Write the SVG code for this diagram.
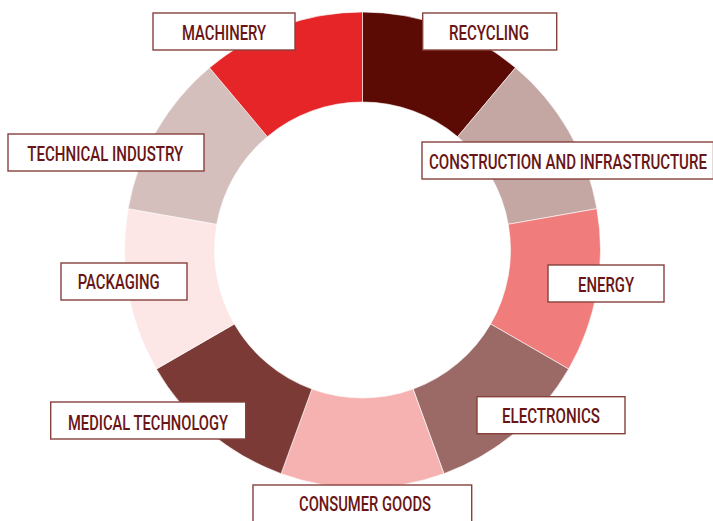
<svg xmlns="http://www.w3.org/2000/svg" width="713" height="521" viewBox="0 0 713 521">
<style>
.seg{stroke:#ffffff;stroke-width:0.6}
.box{fill:#ffffff;stroke:#87413d;stroke-width:1.4}
.lbl{font-family:"Roboto","Liberation Sans",sans-serif;font-size:21px;font-weight:500;fill:#6a1515}
</style>
<rect width="713" height="521" fill="#ffffff"/>
<g id="donut">
<path id="seg-recycling" class="seg" fill="#5c0a04" d="M362.5,12 A238,238 0 0 1 515.49,67.69 L457.63,136.63 A148,148 0 0 0 362.5,102 Z"/>
<path id="seg-construction" class="seg" fill="#c4a6a3" d="M515.49,67.69 A238,238 0 0 1 596.88,208.68 L508.25,224.31 A148,148 0 0 0 457.63,136.63 Z"/>
<path id="seg-energy" class="seg" fill="#f07c7c" d="M596.88,208.68 A238,238 0 0 1 568.61,369 L490.67,324 A148,148 0 0 0 508.25,224.31 Z"/>
<path id="seg-electronics" class="seg" fill="#9c6a66" d="M568.61,369 A238,238 0 0 1 443.9,473.64 L413.12,389.07 A148,148 0 0 0 490.67,324 Z"/>
<path id="seg-consumer" class="seg" fill="#f6b2b1" d="M443.9,473.64 A238,238 0 0 1 281.1,473.64 L311.88,389.07 A148,148 0 0 0 413.12,389.07 Z"/>
<path id="seg-medical" class="seg" fill="#7b3a35" d="M281.1,473.64 A238,238 0 0 1 156.39,369 L234.33,324 A148,148 0 0 0 311.88,389.07 Z"/>
<path id="seg-packaging" class="seg" fill="#fce6e6" d="M156.39,369 A238,238 0 0 1 128.12,208.68 L216.75,224.31 A148,148 0 0 0 234.33,324 Z"/>
<path id="seg-technical" class="seg" fill="#d4bfbd" d="M128.12,208.68 A238,238 0 0 1 209.51,67.69 L267.37,136.63 A148,148 0 0 0 216.75,224.31 Z"/>
<path id="seg-machinery" class="seg" fill="#e52528" d="M209.51,67.69 A238,238 0 0 1 362.5,12 L362.5,102 A148,148 0 0 0 267.37,136.63 Z"/>
</g>
<g id="connectors"></g>
<g id="node-machinery">
<rect class="box" x="153" y="13" width="142" height="37"/>
<text class="lbl" x="182" y="40" textLength="84" lengthAdjust="spacingAndGlyphs">MACHINERY</text>
</g>
<g id="node-recycling">
<rect class="box" x="422.7" y="13" width="134" height="37"/>
<text class="lbl" x="449" y="40" textLength="80" lengthAdjust="spacingAndGlyphs">RECYCLING</text>
</g>
<g id="node-construction">
<rect class="box" x="422" y="142" width="291.5" height="37"/>
<text class="lbl" x="429" y="169" textLength="278" lengthAdjust="spacingAndGlyphs">CONSTRUCTION AND INFRASTRUCTURE</text>
</g>
<g id="node-energy">
<rect class="box" x="548" y="265" width="116" height="37"/>
<text class="lbl" x="578" y="292" textLength="56" lengthAdjust="spacingAndGlyphs">ENERGY</text>
</g>
<g id="node-technical">
<rect class="box" x="8" y="134" width="196" height="37"/>
<text class="lbl" x="27.3" y="161" textLength="156" lengthAdjust="spacingAndGlyphs">TECHNICAL INDUSTRY</text>
</g>
<g id="node-packaging">
<rect class="box" x="61" y="263" width="126" height="37"/>
<text class="lbl" x="77.7" y="289" textLength="82" lengthAdjust="spacingAndGlyphs">PACKAGING</text>
</g>
<g id="node-medical">
<rect class="box" x="50.7" y="402" width="195" height="37"/>
<text class="lbl" x="68" y="430" textLength="160" lengthAdjust="spacingAndGlyphs">MEDICAL TECHNOLOGY</text>
</g>
<g id="node-electronics">
<rect class="box" x="477" y="396.7" width="148" height="37"/>
<text class="lbl" x="502" y="423" textLength="98" lengthAdjust="spacingAndGlyphs">ELECTRONICS</text>
</g>
<g id="node-consumer">
<rect class="box" x="253" y="485" width="218.7" height="40"/>
<text class="lbl" x="299" y="511" textLength="132" lengthAdjust="spacingAndGlyphs">CONSUMER GOODS</text>
</g>
</svg>
